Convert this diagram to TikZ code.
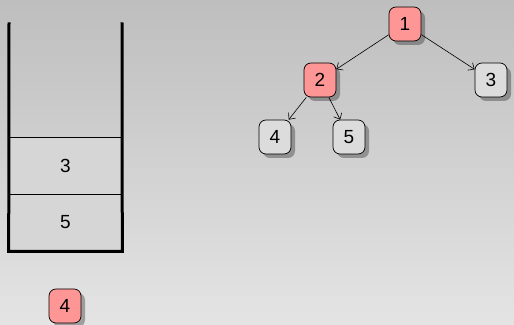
\documentclass[tikz,border=0pt]{standalone}
\usepackage{fontspec}
\setmainfont{Liberation Sans}
\usetikzlibrary{shadows,arrows.meta}
\definecolor{bgtop}{RGB}{190,190,190}
\definecolor{bgbot}{RGB}{228,228,228}
\definecolor{hot}{RGB}{255,150,150}
\definecolor{cool}{RGB}{220,220,220}
\definecolor{cellc}{RGB}{214,214,214}
\tikzset{
  tnode/.style={draw=black, line width=0.7pt, rounded corners=7pt, minimum width=32pt, minimum height=34pt, inner sep=0pt, font=\fontsize{19}{22}\selectfont,
    drop shadow={shadow xshift=4pt, shadow yshift=-4pt, fill=black, opacity=0.3}},
  hotnode/.style={tnode, fill=hot},
  coolnode/.style={tnode, fill=cool},
  cell/.style={draw=black, line width=0.6pt, fill=cellc, minimum width=113pt, minimum height=57pt, inner sep=0pt, font=\fontsize{19}{22}\selectfont},
  wall/.style={line width=3pt, line cap=rect},
  edge/.style={-{Straight Barb[length=5pt,width=9pt]}, line width=0.6pt}
}
\begin{document}
\begin{tikzpicture}[x=1pt,y=1pt]
\shade[top color=bgtop, bottom color=bgbot] (0,0) rectangle (514,324);
\useasboundingbox (0,0) rectangle (514,324);
% stack
\node[cell] (c3) at (65.5,{324-165.5}) {3};
\node[cell] (c5) at (65.5,{324-222.5}) {5};
\coordinate (wlt) at (9,{324-24});
\coordinate (wrt) at (122,{324-24});
\draw[wall] (wlt) -- (c5.south west) -- (c5.south east) -- (wrt);
\node[hotnode] (p4) at (65,{324-306}) {4};
% tree
\node[hotnode] (n1) at (405,{324-24}) {1};
\node[hotnode] (n2) at (320,{324-80}) {2};
\node[coolnode] (n3) at (491,{324-80}) {3};
\node[coolnode] (n4) at (275,{324-137}) {4};
\node[coolnode] (n5) at (349,{324-137}) {5};
\draw[edge] (n1) -- (n2);
\draw[edge] (n1) -- (n3);
\draw[edge] (n2) -- (n4);
\draw[edge] (n2) -- (n5);
\end{tikzpicture}
\end{document}
